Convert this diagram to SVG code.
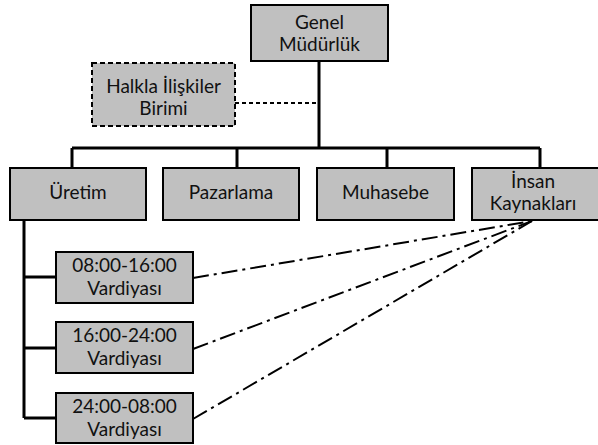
<svg xmlns="http://www.w3.org/2000/svg" width="598" height="445" viewBox="0 0 598 445">
  <style>
    .box { fill: #c0c0c0; stroke: #000; stroke-width: 2; }
    .dashed { stroke-dasharray: 5 3; }
    .lbl { font-family: "Lato", "Open Sans", "Liberation Sans", sans-serif; font-size: 19px; fill: #111; text-anchor: middle; }
    .tree { fill: none; stroke: #000; stroke-width: 3; }
    .staff { fill: none; stroke: #000; stroke-width: 2; stroke-dasharray: 4 3; }
    .shift { fill: none; stroke: #000; stroke-width: 2; stroke-dasharray: 16 5 3 5; }
  </style>

  <!-- connectors -->
  <g id="connectors">
    <path class="tree" d="M319,61 V148 M72,148 H540 M72,148 V168 M237,148 V168 M387,148 V168 M540,148 V168"/>
    <path class="staff" d="M235,103 H319"/>
    <path class="tree" d="M24,220 V418 M24,277 H56 M24,348 H56 M24,418 H56"/>
    <path class="shift" d="M193,278 L532,221"/>
    <path class="shift" d="M193,349 L532,221"/>
    <path class="shift" d="M193,419 L532,221"/>
  </g>

  <g id="genel-mudurluk">
    <rect class="box" x="251" y="5" width="137" height="56"/>
    <text class="lbl" x="319.5" y="29">Genel</text>
    <text class="lbl" x="319.5" y="51">Müdürlük</text>
  </g>

  <g id="halkla-iliskiler">
    <rect class="box dashed" x="92" y="63" width="143" height="63"/>
    <text class="lbl" x="163.5" y="93">Halkla İlişkiler</text>
    <text class="lbl" x="163.5" y="115">Birimi</text>
  </g>

  <g id="uretim">
    <rect class="box" x="10" y="168" width="136" height="52"/>
    <text class="lbl" x="78" y="199">Üretim</text>
  </g>

  <g id="pazarlama">
    <rect class="box" x="163" y="168" width="136" height="52"/>
    <text class="lbl" x="231" y="199">Pazarlama</text>
  </g>

  <g id="muhasebe">
    <rect class="box" x="317" y="168" width="137" height="52"/>
    <text class="lbl" x="385.5" y="199">Muhasebe</text>
  </g>

  <g id="insan-kaynaklari">
    <rect class="box" x="472" y="168" width="136" height="52"/>
    <text class="lbl" x="533" y="188">İnsan</text>
    <text class="lbl" x="533" y="210">Kaynakları</text>
  </g>

  <g id="vardiya-1">
    <rect class="box" x="56" y="252" width="137" height="51"/>
    <text class="lbl" x="124.5" y="272">08:00-16:00</text>
    <text class="lbl" x="124.5" y="295">Vardiyası</text>
  </g>

  <g id="vardiya-2">
    <rect class="box" x="56" y="322" width="137" height="51"/>
    <text class="lbl" x="124.5" y="342">16:00-24:00</text>
    <text class="lbl" x="124.5" y="365">Vardiyası</text>
  </g>

  <g id="vardiya-3">
    <rect class="box" x="56" y="393" width="137" height="50"/>
    <text class="lbl" x="124.5" y="413">24:00-08:00</text>
    <text class="lbl" x="124.5" y="436">Vardiyası</text>
  </g>
</svg>
